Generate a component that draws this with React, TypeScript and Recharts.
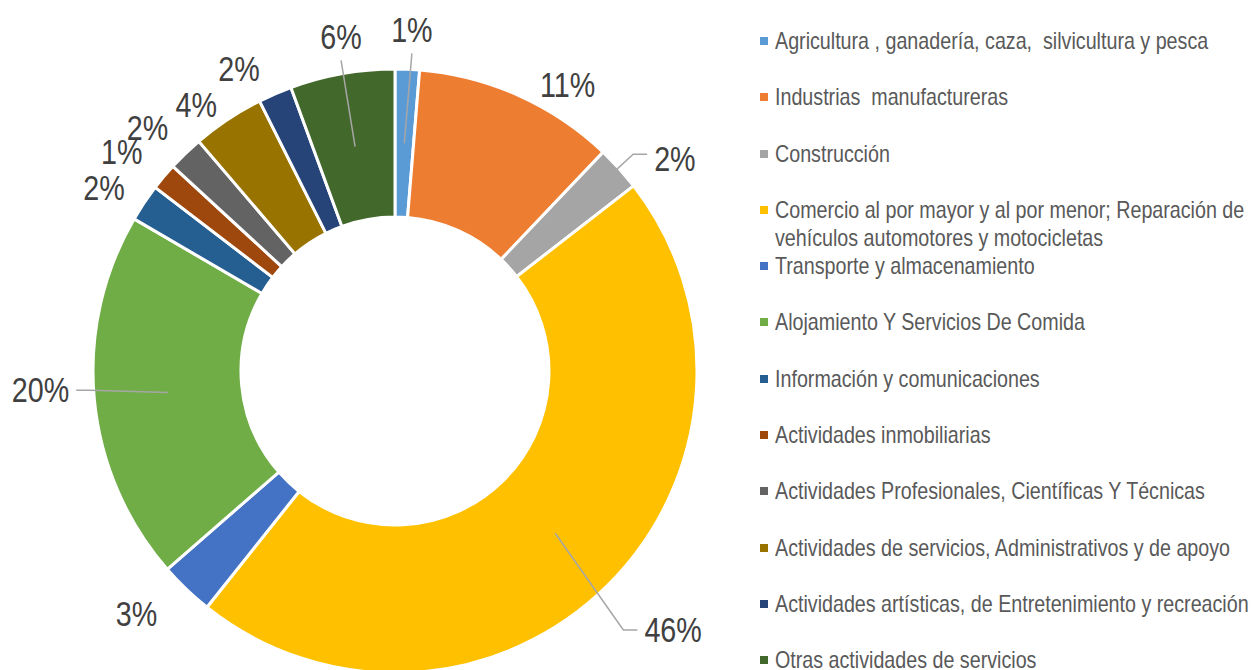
import { PieChart, Pie, Cell, Legend } from 'recharts'

const sectores = [
  'Agricultura , ganadería, caza,  silvicultura y pesca',
  'Industrias  manufactureras',
  'Construcción',
  'Comercio al por mayor y al por menor; Reparación de vehículos automotores y motocicletas',
  'Transporte y almacenamiento',
  'Alojamiento Y Servicios De Comida',
  'Información y comunicaciones',
  'Actividades inmobiliarias',
  'Actividades Profesionales, Científicas Y Técnicas',
  'Actividades de servicios, Administrativos y de apoyo',
  'Actividades artísticas, de Entretenimiento y recreación',
  'Otras actividades de servicios',
]

const porcentajes = [1.3, 10.8, 2.4, 46.2, 2.9, 19.8, 2.0, 1.45, 1.9, 3.85, 1.8, 5.6]

const colores = [
  '#5B9BD5', '#ED7D31', '#A5A5A5', '#FFC000', '#4472C4', '#70AD47',
  '#255E91', '#9E480E', '#636363', '#997300', '#264478', '#43682B',
]

// label nudges: [extra radius past the ring, clockwise degrees]
const ajusteEtiqueta = [
  [39, 0.5], [32, 7], [49, 5], [78, -2.4], [53, 3], [53, 2.3],
  [42, -1.6], [48, -1.4], [45, -1.6], [30, -3.2], [38, -3.9], [36, 0.9],
]
// slices whose label gets a leader line
const conGuia = [0, 2, 3, 5, 11]

const FONT = "'Liberation Sans', Arial, sans-serif"
const NARROW = 0.82
const RAD = Math.PI / 180

const data = sectores.map((s, i) => ({ name: s, value: porcentajes[i] }))

function renderLabel(props: any) {
  const { cx, cy, midAngle, innerRadius, outerRadius, value, index } = props
  const [dr, da] = ajusteEtiqueta[index]
  const ang = (midAngle - da) * RAD
  const r = outerRadius + dr
  const x = cx + r * Math.cos(-ang)
  const y = cy + r * Math.sin(-ang)
  const texto = `${Math.round(value)}%`
  const fs = 35
  const halfW = ((texto.length - 1) * 0.556 + 0.889) * fs * NARROW / 2

  let guia = null
  if (conGuia.includes(index)) {
    const mid = (innerRadius + outerRadius) / 2
    const m = -midAngle * RAD
    const sx = cx + mid * Math.cos(m)
    const sy = cy + mid * Math.sin(m)
    const c = Math.cos(-ang)
    let pts: number[][]
    if (Math.abs(c) > 0.5) {
      const s = Math.sign(c)
      const ex = x - s * (halfW + 7)
      const ey = index === 2 ? y - 5 : y
      pts = [[sx, sy], [ex - s * 14, ey], [ex, ey]]
    } else {
      pts = [[sx, sy], [x, y + 23]]
    }
    guia = (
      <polyline
        points={pts.map((p) => p.join(',')).join(' ')}
        fill="none"
        stroke="#A6A6A6"
        strokeWidth={1.5}
      />
    )
  }

  return (
    <g>
      {guia}
      <text
        transform={`translate(${x} ${y}) scale(${NARROW} 1)`}
        x={0}
        y={0}
        textAnchor="middle"
        dominantBaseline="central"
        fill="#404040"
        style={{ fontFamily: FONT, fontSize: fs }}
      >
        {texto}
      </text>
    </g>
  )
}

function Leyenda() {
  return (
    <div style={{ fontFamily: FONT, fontSize: 24, color: '#595959' }}>
      {sectores.map((s, i) => (
        <div key={s} style={{ display: 'flex', height: 56.3, lineHeight: '28px' }}>
          <div
            style={{
              width: 8, height: 8, marginTop: 10, marginRight: 7,
              background: colores[i], flexShrink: 0,
            }}
          />
          <div style={{ width: 477 }}>
            <div
              style={{
                width: 477 / NARROW,
                whiteSpace: 'pre-wrap',
                transform: `scaleX(${NARROW})`,
                transformOrigin: 'left top',
              }}
            >
              {s}
            </div>
          </div>
        </div>
      ))}
    </div>
  )
}

export default function App() {
  return (
    <div style={{ position: 'absolute', left: 0, top: 0, background: '#fff', overflow: 'hidden' }}>
      <PieChart width={1252} height={670} margin={{ top: 0, right: 0, bottom: 0, left: 0 }}>
        <Pie
          data={data}
          dataKey="value"
          nameKey="name"
          cx={395}
          cy={371}
          innerRadius={154}
          outerRadius={302}
          startAngle={90}
          endAngle={-270}
          stroke="#fff"
          strokeWidth={3}
          label={renderLabel}
          labelLine={false}
          isAnimationActive={false}
        >
          {data.map((d, i) => (
            <Cell key={d.name} fill={colores[i]} />
          ))}
        </Pie>
        <Legend
          layout="vertical"
          verticalAlign="top"
          align="right"
          content={() => <Leyenda />}
          wrapperStyle={{ left: 760, top: 27, width: 492 }}
        />
      </PieChart>
    </div>
  )
}
